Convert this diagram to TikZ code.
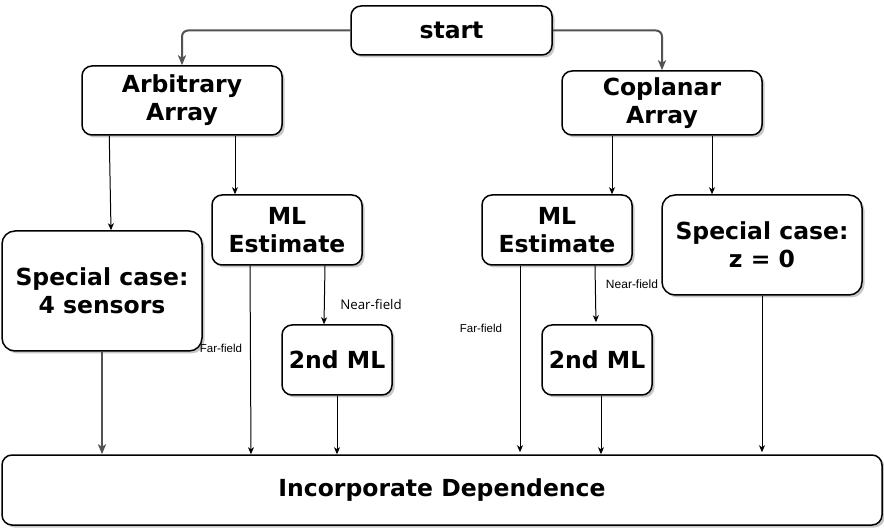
\documentclass[tikz,border=0pt]{standalone}
\usepackage{fontspec}
\setmainfont{DejaVu Sans}
\newfontfamily\labelfont{Liberation Sans}
\newfontfamily\altlabelfont{Open Sans}
\usetikzlibrary{arrows.meta,shadows}
\begin{document}
\begin{tikzpicture}[x=1pt,y=-1pt,
  box/.style={draw=black, line width=1.5pt, rounded corners=10pt, fill=white, inner sep=0pt,
    align=center, font=\fontsize{23.5}{28}\selectfont\bfseries,
    drop shadow={shadow xshift=2.5pt, shadow yshift=-2.5pt, fill=black, opacity=0.22}},
  garrow/.style={draw=black!68, line width=2pt, -{Stealth[length=10pt,width=8pt,inset=2.5pt]}},
  tarrow/.style={draw=black, line width=1pt, -{Stealth[length=7pt,width=6pt,inset=2pt]}},
  lbl/.style={font=\labelfont\fontsize{11.5}{13}\selectfont, inner sep=0pt}]
\useasboundingbox (0,0) rectangle (884,529);
\node[box, minimum width=201pt, minimum height=49pt] (start) at (451.5,30.5) {start};
\node[box, minimum width=200pt, minimum height=69pt] (arb) at (182,100.5) {Arbitrary\\Array};
\node[box, minimum width=200pt, minimum height=64pt] (cop) at (662,103) {Coplanar\\Array};
\node[box, minimum width=150pt, minimum height=70pt] (mlL) at (287,230) {ML\\Estimate};
\node[box, minimum width=150pt, minimum height=70pt] (mlR) at (557,230) {ML\\Estimate};
\node[box, minimum width=200pt, minimum height=120pt, rounded corners=13pt] (ss) at (102,291) {Special case:\\4 sensors};
\node[box, minimum width=200pt, minimum height=100pt, rounded corners=13pt] (z0) at (762,245) {Special case:\\z = 0};
\node[box, minimum width=110pt, minimum height=70pt] (ndL) at (337,360) {2nd ML};
\node[box, minimum width=110pt, minimum height=70pt] (ndR) at (597,360) {2nd ML};
\node[box, minimum width=880pt, minimum height=70pt] (inc) at (442,490) {Incorporate Dependence};
% connectors
\draw[garrow, rounded corners=6pt] (start.west) -| (arb.north);
\draw[garrow, rounded corners=6pt] (start.east) -| (cop.north);
\draw[garrow] (ss.south) -- ([xshift=-340pt]inc.north);
\draw[tarrow] ([xshift=28pt]arb.south west) -- ([xshift=9pt]ss.north);
\draw[tarrow] ([xshift=53pt]arb.south) -- ([xshift=-52pt]mlL.north);
\draw[tarrow] ([xshift=-37pt]mlL.south) -- ([xshift=-191pt]inc.north);
\draw[tarrow] ([xshift=38pt]mlL.south) -- ([xshift=-13pt]ndL.north);
\draw[tarrow] (ndL.south) -- ([xshift=-105pt]inc.north);
\draw[tarrow] ([xshift=-50pt]cop.south) -- ([xshift=55pt]mlR.north);
\draw[tarrow] ([xshift=50pt]cop.south) -- ([xshift=-50pt]z0.north);
\draw[tarrow, shorten >=2pt] ([xshift=-37pt]mlR.south) -- ([xshift=78pt]inc.north);
\draw[tarrow, shorten >=2pt] ([xshift=38pt]mlR.south) -- ([xshift=-1pt]ndR.north);
\draw[tarrow] ([xshift=4pt]ndR.south) -- ([xshift=159pt]inc.north);
\draw[tarrow, shorten >=2pt] (z0.south) -- ([xshift=320pt]inc.north);
% labels
\node[lbl] (ffL) at (221,348) {Far-field};
\node[lbl, font=\altlabelfont\fontsize{13.3}{15}\selectfont] (nfL) at (371,304) {Near-field};
\node[lbl] (ffR) at (481,328) {Far-field};
\node[lbl, font=\labelfont\fontsize{12}{14}\selectfont] (nfR) at (632,284) {Near-field};
\end{tikzpicture}
\end{document}
